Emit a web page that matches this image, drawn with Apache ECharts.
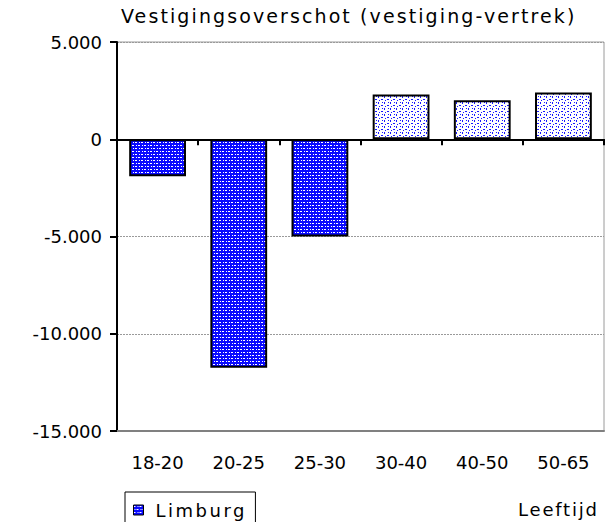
<!DOCTYPE html>
<html>
<head>
<meta charset="utf-8">
<script src="https://cdn.jsdelivr.net/npm/echarts@6/dist/echarts.min.js"></script>
<style>
  html, body { margin: 0; padding: 0; background: #fff; }
  #chart { width: 605px; height: 522px; }
</style>
</head>
<body>
<div id="chart"></div>
<script>
// Age groups and net settlement (settlements minus departures) for Limburg
const categories = ['18-20', '20-25', '25-30', '30-40', '40-50', '50-65'];
const limburg = [-1900, -11750, -5000, 2300, 2000, 2400];
const yTicks = [-15000, -10000, -5000, 0, 5000];

const titleText = 'Vestigingsoverschot (vestiging-vertrek)';
const axisName = 'Leeftijd';
const seriesName = 'Limburg';

// Wider tracking for the word labels, in px
const tracking = { [titleText]: 2.1, [seriesName]: 2.5, [axisName]: 1.8 };

// Small repeating tiles used as bar fill textures
function makeTile(bg, fg, marks) {
  const c = document.createElement('canvas');
  c.width = 6; c.height = 6;
  const g = c.getContext('2d');
  g.fillStyle = bg; g.fillRect(0, 0, 6, 6);
  g.fillStyle = fg;
  marks.forEach(m => g.fillRect(m[0], m[1], m[2], m[3]));
  return { image: c, repeat: 'repeat' };
}
const denseFill = makeTile('#0a0aff', '#ffffff', [[0, 1, 2, 1], [3, 4, 2, 1], [4, 1, 1, 1], [1, 4, 1, 1]]);
const lightFill = makeTile('#ffffff', '#1a1aff', [[0, 0, 1, 2], [3, 3, 2, 1], [4, 0, 1, 1], [1, 4, 1, 1]]);

const fmt = v => {
  const s = Math.abs(v).toString().replace(/\B(?=(\d{3})+(?!\d))/g, '.');
  return (v < 0 ? '-' : '') + s;
};

const chart = echarts.init(document.getElementById('chart'), null, { renderer: 'svg' });
const font = 'DejaVu Sans, Verdana, sans-serif';

chart.setOption({
  animation: false,
  textStyle: { fontFamily: font },
  title: {
    text: titleText,
    left: 121, top: 6, padding: 0,
    textStyle: { fontFamily: font, fontSize: 19, fontWeight: 'normal', color: '#000' }
  },
  grid: {
    left: 117, right: 1, top: 42, bottom: 91,
    show: true, borderColor: '#9a9a9a', borderWidth: 1
  },
  legend: {
    data: [seriesName],
    left: 125, top: 492,
    padding: [9, 26, 20, 8],
    borderColor: '#000', borderWidth: 1, borderRadius: 0,
    itemWidth: 10, itemHeight: 10,
    icon: 'rect',
    itemStyle: { borderColor: '#000', borderWidth: 1 },
    textStyle: { fontFamily: font, fontSize: 18, color: '#000', padding: [0, 0, 0, 7] }
  },
  graphic: [{
    type: 'text', left: 518, top: 500,
    style: { text: axisName, font: '18px ' + font, fill: '#000' }
  }],
  xAxis: [{
    type: 'category', data: categories, position: 'bottom',
    axisLine: { onZero: true, lineStyle: { color: '#000', width: 2 } },
    axisTick: { show: true, length: 6, lineStyle: { color: '#000', width: 2 } },
    axisLabel: { show: false }
  }, {
    type: 'category', data: categories, position: 'bottom',
    axisLine: { onZero: false, lineStyle: { color: '#808080', width: 2 } },
    axisTick: { show: false },
    axisLabel: { margin: 22, fontFamily: font, fontSize: 18, color: '#000' }
  }],
  yAxis: {
    type: 'value', min: -15000, max: 5000, interval: 5000,
    axisLine: { show: true, lineStyle: { color: '#000', width: 2 } },
    axisTick: { show: true, length: 7, lineStyle: { color: '#000', width: 2 } },
    axisLabel: {
      margin: 15, fontFamily: font, fontSize: 18, color: '#000',
      formatter: v => yTicks.includes(v) ? fmt(v) : ''
    },
    splitLine: { show: true, lineStyle: { color: '#9a9a9a', type: [2, 1], width: 1 } }
  },
  series: [{
    name: seriesName, type: 'bar', xAxisIndex: 0,
    barCategoryGap: '30%',
    itemStyle: { color: denseFill, borderColor: '#000', borderWidth: 2 },
    data: limburg.map(v => v < 0 ? v : { value: v, itemStyle: { color: lightFill } })
  }]
});

// Apply tracking to the word labels once the SVG is drawn
function applyTracking() {
  document.querySelectorAll('#chart text').forEach(t => {
    const ls = tracking[t.textContent];
    if (ls) t.setAttribute('letter-spacing', ls + 'px');
  });
}
chart.on('finished', applyTracking);
applyTracking();
</script>
</body>
</html>
